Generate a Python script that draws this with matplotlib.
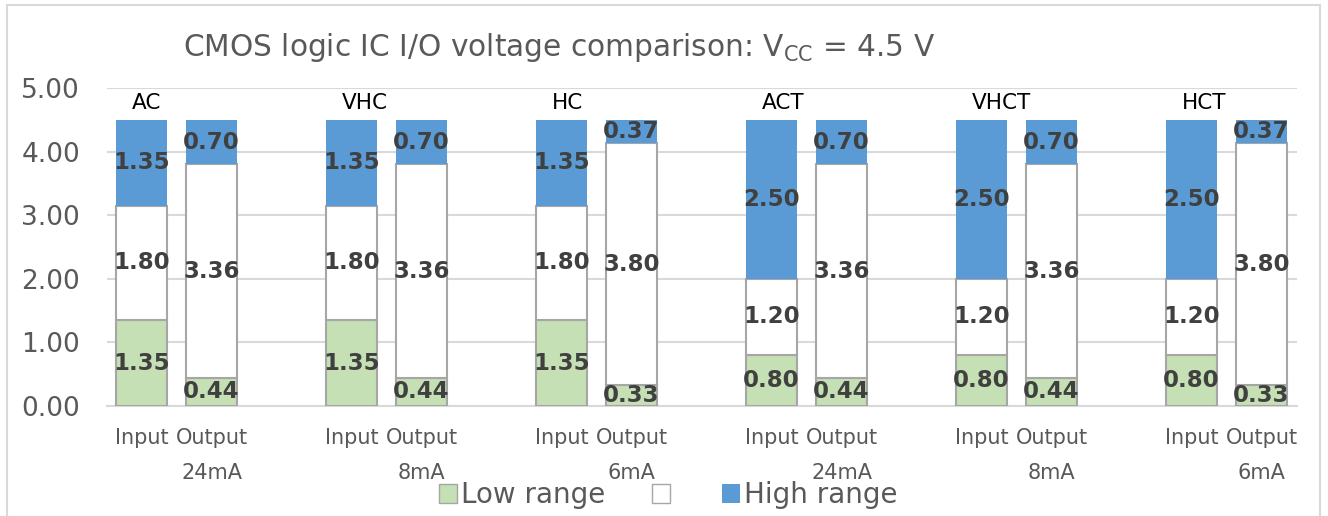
import numpy as np
import matplotlib
matplotlib.use("Agg")
import matplotlib.pyplot as plt
from matplotlib.patches import Rectangle, Patch

# data (Vcc = 4.5 V)
families = ["AC", "VHC", "HC", "ACT", "VHCT", "HCT"]
currents = ["24mA", "8mA", "6mA", "24mA", "8mA", "6mA"]
input_low = [1.35, 1.35, 1.35, 0.80, 0.80, 0.80]
input_mid = [1.80, 1.80, 1.80, 1.20, 1.20, 1.20]
input_high = [1.35, 1.35, 1.35, 2.50, 2.50, 2.50]
output_low = [0.44, 0.44, 0.33, 0.44, 0.44, 0.33]
output_mid = [3.36, 3.36, 3.80, 3.36, 3.36, 3.80]
output_high = [0.70, 0.70, 0.37, 0.70, 0.70, 0.37]

GREEN = "#C5E0B4"
BLUE = "#5B9BD5"
EDGE = "#A6A6A6"
GRID = "#D9D9D9"
TXT = "#595959"

# each family takes 3 slots: Input, Output, gap
x_in = np.arange(len(families)) * 3
x_out = x_in + 1
xs = np.ravel(np.column_stack([x_in, x_out]))
low = np.ravel(np.column_stack([input_low, output_low]))
mid = np.ravel(np.column_stack([input_mid, output_mid]))
high = np.ravel(np.column_stack([input_high, output_high]))

fig = plt.figure(figsize=(13.28, 5.16), dpi=100)
ax = fig.add_axes([0.0802, 0.2132, 0.8961, 0.6163])

w = 0.73
b1 = ax.bar(xs, low, w, color=GREEN, edgecolor=EDGE, linewidth=1.5, zorder=3)
b2 = ax.bar(xs, mid, w, bottom=low, color="white", edgecolor=EDGE, linewidth=1.5, zorder=3)
b3 = ax.bar(xs, high, w, bottom=low + mid, color=BLUE, edgecolor="none", zorder=3)

for bars in (b1, b2, b3):
    ax.bar_label(bars, fmt="%.2f", label_type="center", fontsize=16.5,
                 fontweight="bold", color="#404040", zorder=5)

for xi, name in zip(x_in, families):
    ax.text(xi - 0.136, 4.76, name, ha="left", va="center", fontsize=15.5, color="black")

ax.set_xlim(-0.5, 16.5)
ax.set_ylim(0, 5)
ax.set_yticks(np.arange(0, 5.01, 1))
ax.set_yticklabels([f"{v:.2f}" for v in np.arange(0, 5.01, 1)], fontsize=19, color=TXT)
ax.set_xticks(xs)
labels = []
for c in currents:
    labels += ["Input", "Output\n" + c]
ax.set_xticklabels(labels, fontsize=15, color=TXT, linespacing=1.95, va="top")
ax.tick_params(axis="both", length=0)
ax.tick_params(axis="x", pad=16)
ax.tick_params(axis="y", pad=19)
ax.grid(axis="y", color=GRID, linewidth=1.5, zorder=0)
for s in ["top", "right", "left"]:
    ax.spines[s].set_visible(False)
ax.spines["bottom"].set_color(GRID)
ax.spines["bottom"].set_linewidth(1.5)

fig.text(0.421, 0.907, r"CMOS logic IC I/O voltage comparison: V$_{\mathregular{CC}}$ = 4.5 V",
         ha="center", va="center", fontsize=21.3, color=TXT)

handles = [Patch(facecolor=GREEN, edgecolor=EDGE),
           Patch(facecolor="white", edgecolor=EDGE),
           Patch(facecolor=BLUE, edgecolor="none")]
fig.legend(handles, ["Low range", "", "High range"], loc="center",
           bbox_to_anchor=(0.503, 0.04), ncol=3, frameon=False, fontsize=20,
           labelcolor=TXT, handlelength=0.65, handleheight=0.65,
           handletextpad=0.15, columnspacing=1.7)

fig.patches.append(Rectangle((7 / 1328, -0.1), 1313 / 1328, 1.1 - 5 / 516,
                             transform=fig.transFigure, fill=False,
                             edgecolor=GRID, linewidth=1.5))

fig.savefig("out.png", dpi=100)
